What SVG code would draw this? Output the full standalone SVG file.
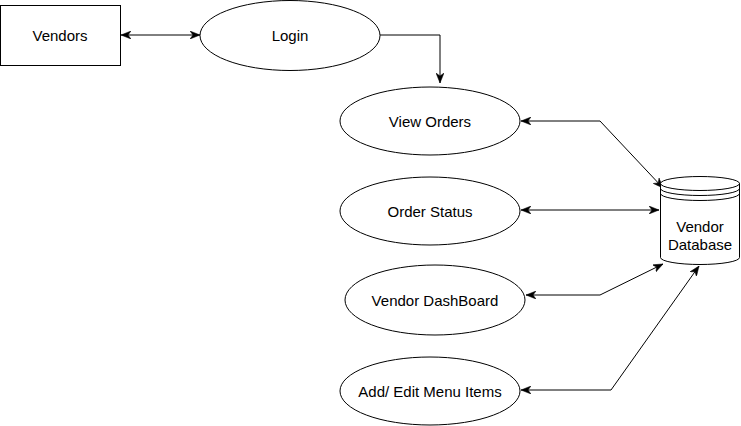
<svg xmlns="http://www.w3.org/2000/svg" width="741" height="426" viewBox="0 0 741 426">
<style>
.shape{fill:#fff;stroke:#000;stroke-width:1}
.edge{fill:none;stroke:#000;stroke-width:1}
.lbl{font-family:"Liberation Sans",Arial,sans-serif;font-size:15px;fill:#000;text-anchor:middle;dominant-baseline:central}
</style>
<defs>
<marker id="arr" viewBox="0 0 10 8" refX="10" refY="4" markerWidth="10" markerHeight="8" markerUnits="userSpaceOnUse" orient="auto-start-reverse">
<path d="M0,0 L10,4 L0,8 L3,4 z" fill="#000" stroke="#000" stroke-width="0.5"/>
</marker>
</defs>
<rect width="741" height="426" fill="#fff"/>
<g id="connectors">
<path class="edge" d="M121,35 L200,35" marker-start="url(#arr)" marker-end="url(#arr)"/>
<path class="edge" d="M380,35 L440,35 L440,83" marker-end="url(#arr)"/>
<path class="edge" d="M521,121 L600,121 L663,188" marker-start="url(#arr)" marker-end="url(#arr)"/>
<path class="edge" d="M521,210 L659,210" marker-start="url(#arr)" marker-end="url(#arr)"/>
<path class="edge" d="M526,295 L600,295 L663,264" marker-start="url(#arr)" marker-end="url(#arr)"/>
<path class="edge" d="M521,390 L611,390 L699,266" marker-start="url(#arr)" marker-end="url(#arr)"/>
</g>
<g id="vendors">
<rect class="shape" x="0.5" y="5.5" width="120" height="60"/>
<text class="lbl" x="60" y="35.5">Vendors</text>
</g>
<g id="login">
<ellipse class="shape" cx="290" cy="35.5" rx="90" ry="35"/>
<text class="lbl" x="290" y="35.5">Login</text>
</g>
<g id="view-orders">
<ellipse class="shape" cx="430" cy="121" rx="90" ry="34"/>
<text class="lbl" x="430" y="121">View Orders</text>
</g>
<g id="order-status">
<ellipse class="shape" cx="430" cy="211" rx="90" ry="34"/>
<text class="lbl" x="430" y="211">Order Status</text>
</g>
<g id="vendor-dashboard">
<ellipse class="shape" cx="435" cy="300" rx="90" ry="35"/>
<text class="lbl" x="435" y="300">Vendor DashBoard</text>
</g>
<g id="add-edit-menu">
<ellipse class="shape" cx="430" cy="391" rx="90" ry="34"/>
<text class="lbl" x="430" y="391">Add/ Edit Menu Items</text>
</g>
<g id="vendor-database">
<path class="shape" d="M660.5,183.5 A39.5,7 0 0 1 739.5,183.5 L739.5,257.5 A39.5,7 0 0 1 660.5,257.5 Z"/>
<path class="edge" d="M660.5,183.5 A39.5,7 0 0 0 739.5,183.5"/>
<path class="edge" d="M660.5,188.5 A39.5,7 0 0 0 739.5,188.5"/>
<path class="edge" d="M660.5,193.5 A39.5,7 0 0 0 739.5,193.5"/>
<text class="lbl" x="700" y="226">Vendor</text>
<text class="lbl" x="700" y="244">Database</text>
</g>
</svg>
